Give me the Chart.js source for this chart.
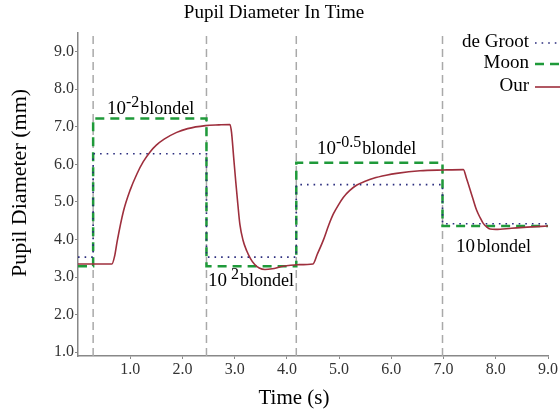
<!DOCTYPE html>
<html lang="en">
<head>
    <meta charset="UTF-8">
    <title>Pupil Diameter In Time</title>
    <style>
        body {
            margin: 0;
            padding: 0;
            background-color: #fff;
        }

        #chart-box {
            width: 560px;
            height: 413px;
            position: relative;
        }
    </style>
    <script src="https://cdn.jsdelivr.net/npm/chart.js"></script>
</head>
<body>

<div id="chart-box">
    <canvas id="pupilChart"></canvas>
</div>

<script>
    // moments when the light level changes (s)
    const switchTimes = [0.29, 2.46, 4.18, 6.98];

    // step models: value holds from each start time to the next one
    const stepStarts = [0, 0.29, 2.46, 4.18, 6.98, 9];
    const deGrootLevels = [3.53, 6.28, 3.53, 5.46, 4.42, 4.42];
    const moonLevels = [3.29, 7.22, 3.29, 6.04, 4.36, 4.36];

    // our model
    const ourTime = [0, 0.3, 0.65, 0.7, 0.75, 0.87, 1.0, 1.13, 1.25, 1.38, 1.5, 1.65, 1.89, 2.1, 2.44, 2.7, 2.91,
        2.94, 2.98, 3.02, 3.06, 3.1, 3.16, 3.23, 3.3, 3.38, 3.47, 3.58, 3.72, 3.9, 4.2, 4.5,
        4.58, 4.7, 4.8, 4.89, 5.0, 5.08, 5.2, 5.34, 5.5, 5.66, 5.9, 6.1, 6.55, 7.0, 7.38,
        7.44, 7.51, 7.57, 7.63, 7.7, 7.76, 7.83, 7.89, 8.0, 8.3, 8.6, 9.0];
    const ourDiameter = [3.35, 3.35, 3.35, 3.55, 3.95, 4.75, 5.32, 5.75, 6.07, 6.33, 6.51, 6.67, 6.85, 6.95, 7.03, 7.05, 7.06,
        6.85, 6.2, 5.55, 4.95, 4.4, 3.98, 3.7, 3.5, 3.34, 3.24, 3.2, 3.22, 3.28, 3.33, 3.35,
        3.6, 3.99, 4.38, 4.68, 4.95, 5.12, 5.3, 5.45, 5.55, 5.63, 5.71, 5.76, 5.83, 5.85, 5.86,
        5.62, 5.32, 5.05, 4.79, 4.58, 4.43, 4.33, 4.28, 4.27, 4.3, 4.33, 4.36];

    // luminance labels: 10^exponent blondel
    const labelTimes = [0.555, 2.49, 4.577, 7.24];
    const labelLevels = [7.34, 2.76, 6.28, 3.67];
    const labelExponents = ['-2', ' 2', '-0.5', ''];

    const yMin = 0.9;
    const yMax = 9.5;
    const serif = '"Liberation Serif", "Times New Roman", serif';

    function toPoints(xs, ys) {
        return xs.map((x, i) => ({ x: x, y: ys[i] }));
    }

    // vertical markers, broken apart with null points
    const markerPoints = [];
    switchTimes.forEach(t => {
        markerPoints.push({ x: t, y: yMin }, { x: t, y: yMax }, { x: t, y: null });
    });

    const overlayText = {
        id: 'overlayText',
        afterDraw(chart) {
            const ctx = chart.ctx;
            const xs = chart.scales.x;
            const ys = chart.scales.y;
            ctx.save();
            ctx.fillStyle = '#000';
            ctx.textAlign = 'left';
            ctx.textBaseline = 'alphabetic';

            labelTimes.forEach((t, i) => {
                let px = xs.getPixelForValue(t);
                const py = ys.getPixelForValue(labelLevels[i]);
                ctx.font = '19px ' + serif;
                ctx.fillText('10', px, py);
                px += ctx.measureText('10').width;
                if (labelExponents[i]) {
                    ctx.font = '16px ' + serif;
                    ctx.fillText(labelExponents[i], px, py - 7);
                    px += ctx.measureText(labelExponents[i]).width + 1;
                } else {
                    px += 2;
                }
                ctx.font = '18px ' + serif;
                ctx.fillText('blondel', px, py);
            });

            // axis titles
            ctx.textAlign = 'center';
            ctx.textBaseline = 'middle';
            ctx.font = '21px ' + serif;
            ctx.fillText('Time (s)', 294, 398);
            ctx.save();
            ctx.translate(20, 183);
            ctx.rotate(-Math.PI / 2);
            ctx.font = '22px ' + serif;
            ctx.fillText('Pupil Diameter (mm)', 0, 0);
            ctx.restore();

            // legend, text first then the line sample
            const rows = [43, 64, 87];
            ctx.textAlign = 'right';
            ctx.font = '19px ' + serif;
            chart.data.datasets.filter(d => d.inLegend).forEach((d, i) => {
                ctx.fillStyle = '#000';
                ctx.fillText(d.label, 529, rows[i] - 1);
                ctx.beginPath();
                ctx.strokeStyle = d.borderColor;
                ctx.lineWidth = d.borderWidth;
                ctx.setLineDash(d.borderDash || []);
                ctx.moveTo(535, rows[i]);
                ctx.lineTo(560, rows[i]);
                ctx.stroke();
            });
            ctx.restore();
        }
    };

    const ctx = document.getElementById('pupilChart').getContext('2d');
    new Chart(ctx, {
        type: 'line',
        data: {
            datasets: [
                {
                    label: 'de Groot',
                    inLegend: true,
                    data: toPoints(stepStarts, deGrootLevels),
                    stepped: 'before',
                    borderColor: '#2b2d7e',
                    borderWidth: 1.6,
                    borderDash: [1.6, 5],
                    pointRadius: 0,
                    order: 1
                },
                {
                    label: 'Moon',
                    inLegend: true,
                    data: toPoints(stepStarts, moonLevels),
                    stepped: 'before',
                    borderColor: '#1f9a3a',
                    borderWidth: 2.5,
                    borderDash: [9, 6],
                    pointRadius: 0,
                    order: 2
                },
                {
                    label: 'Our',
                    inLegend: true,
                    data: toPoints(ourTime, ourDiameter),
                    cubicInterpolationMode: 'monotone',
                    borderColor: '#9e2f3d',
                    borderWidth: 1.6,
                    pointRadius: 0,
                    order: 0
                },
                {
                    label: 'switch',
                    data: markerPoints,
                    borderColor: '#a9a9a9',
                    borderWidth: 1.5,
                    borderDash: [8, 5],
                    pointRadius: 0,
                    spanGaps: false,
                    order: 3
                }
            ]
        },
        options: {
            responsive: true,
            maintainAspectRatio: false,
            animation: false,
            events: [],
            layout: {
                padding: { top: 0, right: 12, bottom: 0, left: 0 }
            },
            plugins: {
                legend: { display: false },
                tooltip: { enabled: false },
                title: {
                    display: true,
                    text: 'Pupil Diameter In Time',
                    color: '#000',
                    font: { family: serif, size: 19, weight: 'normal' },
                    padding: { top: 2, bottom: 8 }
                }
            },
            scales: {
                x: {
                    type: 'linear',
                    min: 0,
                    max: 9,
                    afterFit: scale => { scale.height = 57; },
                    afterBuildTicks: scale => { scale.ticks = scale.ticks.filter(t => t.value > 0); },
                    ticks: {
                        stepSize: 1,
                        padding: 1,
                        color: '#333',
                        font: { family: serif, size: 16 },
                        maxRotation: 0,
                        callback: v => v.toFixed(1)
                    },
                    grid: { drawOnChartArea: false, tickLength: 3, color: '#888' },
                    border: { color: '#888', width: 1.5 }
                },
                y: {
                    type: 'linear',
                    min: yMin,
                    max: yMax,
                    afterFit: scale => { scale.width = 78; },
                    ticks: {
                        stepSize: 1,
                        includeBounds: false,
                        padding: 1,
                        color: '#333',
                        font: { family: serif, size: 16 },
                        callback: v => v.toFixed(1)
                    },
                    grid: { drawOnChartArea: false, tickLength: 3, color: '#888' },
                    border: { color: '#888', width: 1.5 }
                }
            }
        },
        plugins: [overlayText]
    });
</script>
</body>
</html>
